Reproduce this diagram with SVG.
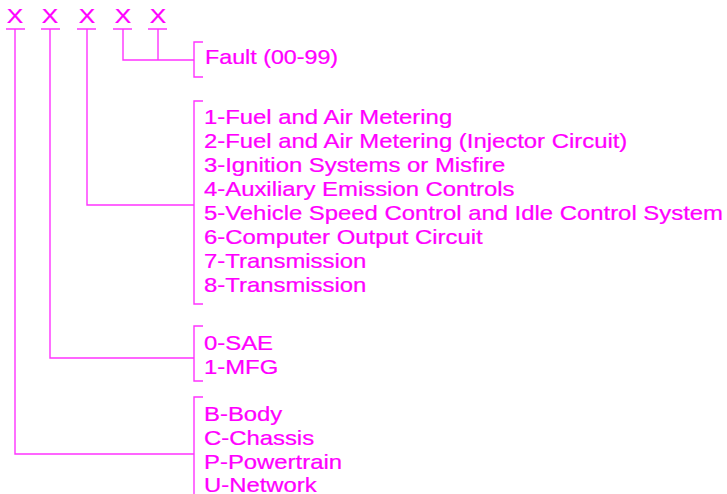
<svg xmlns="http://www.w3.org/2000/svg" width="727" height="494" viewBox="0 0 727 494">
<style>
.ln{fill:none;stroke:#ff33ff;stroke-width:1.4}
.t{font-family:"Liberation Sans",Arial,sans-serif;font-size:20.5px;fill:#ff00ff;stroke:#ff00ff;stroke-width:0.25}
</style>
<rect width="727" height="494" fill="#ffffff"/>
<g id="digits">
<g transform="translate(15 23) scale(1.2 1)"><text class="t" x="0" y="0" text-anchor="middle">X</text></g>
<g transform="translate(50 23) scale(1.2 1)"><text class="t" x="0" y="0" text-anchor="middle">X</text></g>
<g transform="translate(87 23) scale(1.2 1)"><text class="t" x="0" y="0" text-anchor="middle">X</text></g>
<g transform="translate(123 23) scale(1.2 1)"><text class="t" x="0" y="0" text-anchor="middle">X</text></g>
<g transform="translate(158 23) scale(1.2 1)"><text class="t" x="0" y="0" text-anchor="middle">X</text></g>
<path class="ln" d="M6 29H25M41 29H60M77 29H96M113 29H132M148 29H167"/>
</g>
<g id="connectors">
<path class="ln" d="M123 29V60H194M158 29V60"/>
<path class="ln" d="M87 29V205H194"/>
<path class="ln" d="M50 29V358H194"/>
<path class="ln" d="M15 29V454H194"/>
</g>
<g id="fault">
<path class="ln" d="M203 42H194V77H203"/>
<g transform="translate(205 0) scale(1.135 1)"><text class="t" x="0" y="64">Fault (00-99)</text></g>
</g>
<g id="system">
<path class="ln" d="M203 101H194V304H203"/>
<g transform="translate(204 0) scale(1.165 1)">
<text class="t" x="0" y="124">1-Fuel and Air Metering</text>
<text class="t" x="0" y="148">2-Fuel and Air Metering (Injector Circuit)</text>
<text class="t" x="0" y="172">3-Ignition Systems or Misfire</text>
<text class="t" x="0" y="196">4-Auxiliary Emission Controls</text>
<text class="t" x="0" y="220">5-Vehicle Speed Control and Idle Control System</text>
<text class="t" x="0" y="244">6-Computer Output Circuit</text>
<text class="t" x="0" y="268">7-Transmission</text>
<text class="t" x="0" y="292">8-Transmission</text>
</g>
</g>
<g id="code-type">
<path class="ln" d="M203 326H194V381H203"/>
<g transform="translate(204 0) scale(1.165 1)">
<text class="t" x="0" y="350">0-SAE</text>
<text class="t" x="0" y="374">1-MFG</text>
</g>
</g>
<g id="area">
<path class="ln" d="M203 397H194V494"/>
<g transform="translate(204 0) scale(1.165 1)">
<text class="t" x="0" y="421">B-Body</text>
<text class="t" x="0" y="445">C-Chassis</text>
<text class="t" x="0" y="469">P-Powertrain</text>
<text class="t" x="0" y="492">U-Network</text>
</g>
</g>
</svg>
